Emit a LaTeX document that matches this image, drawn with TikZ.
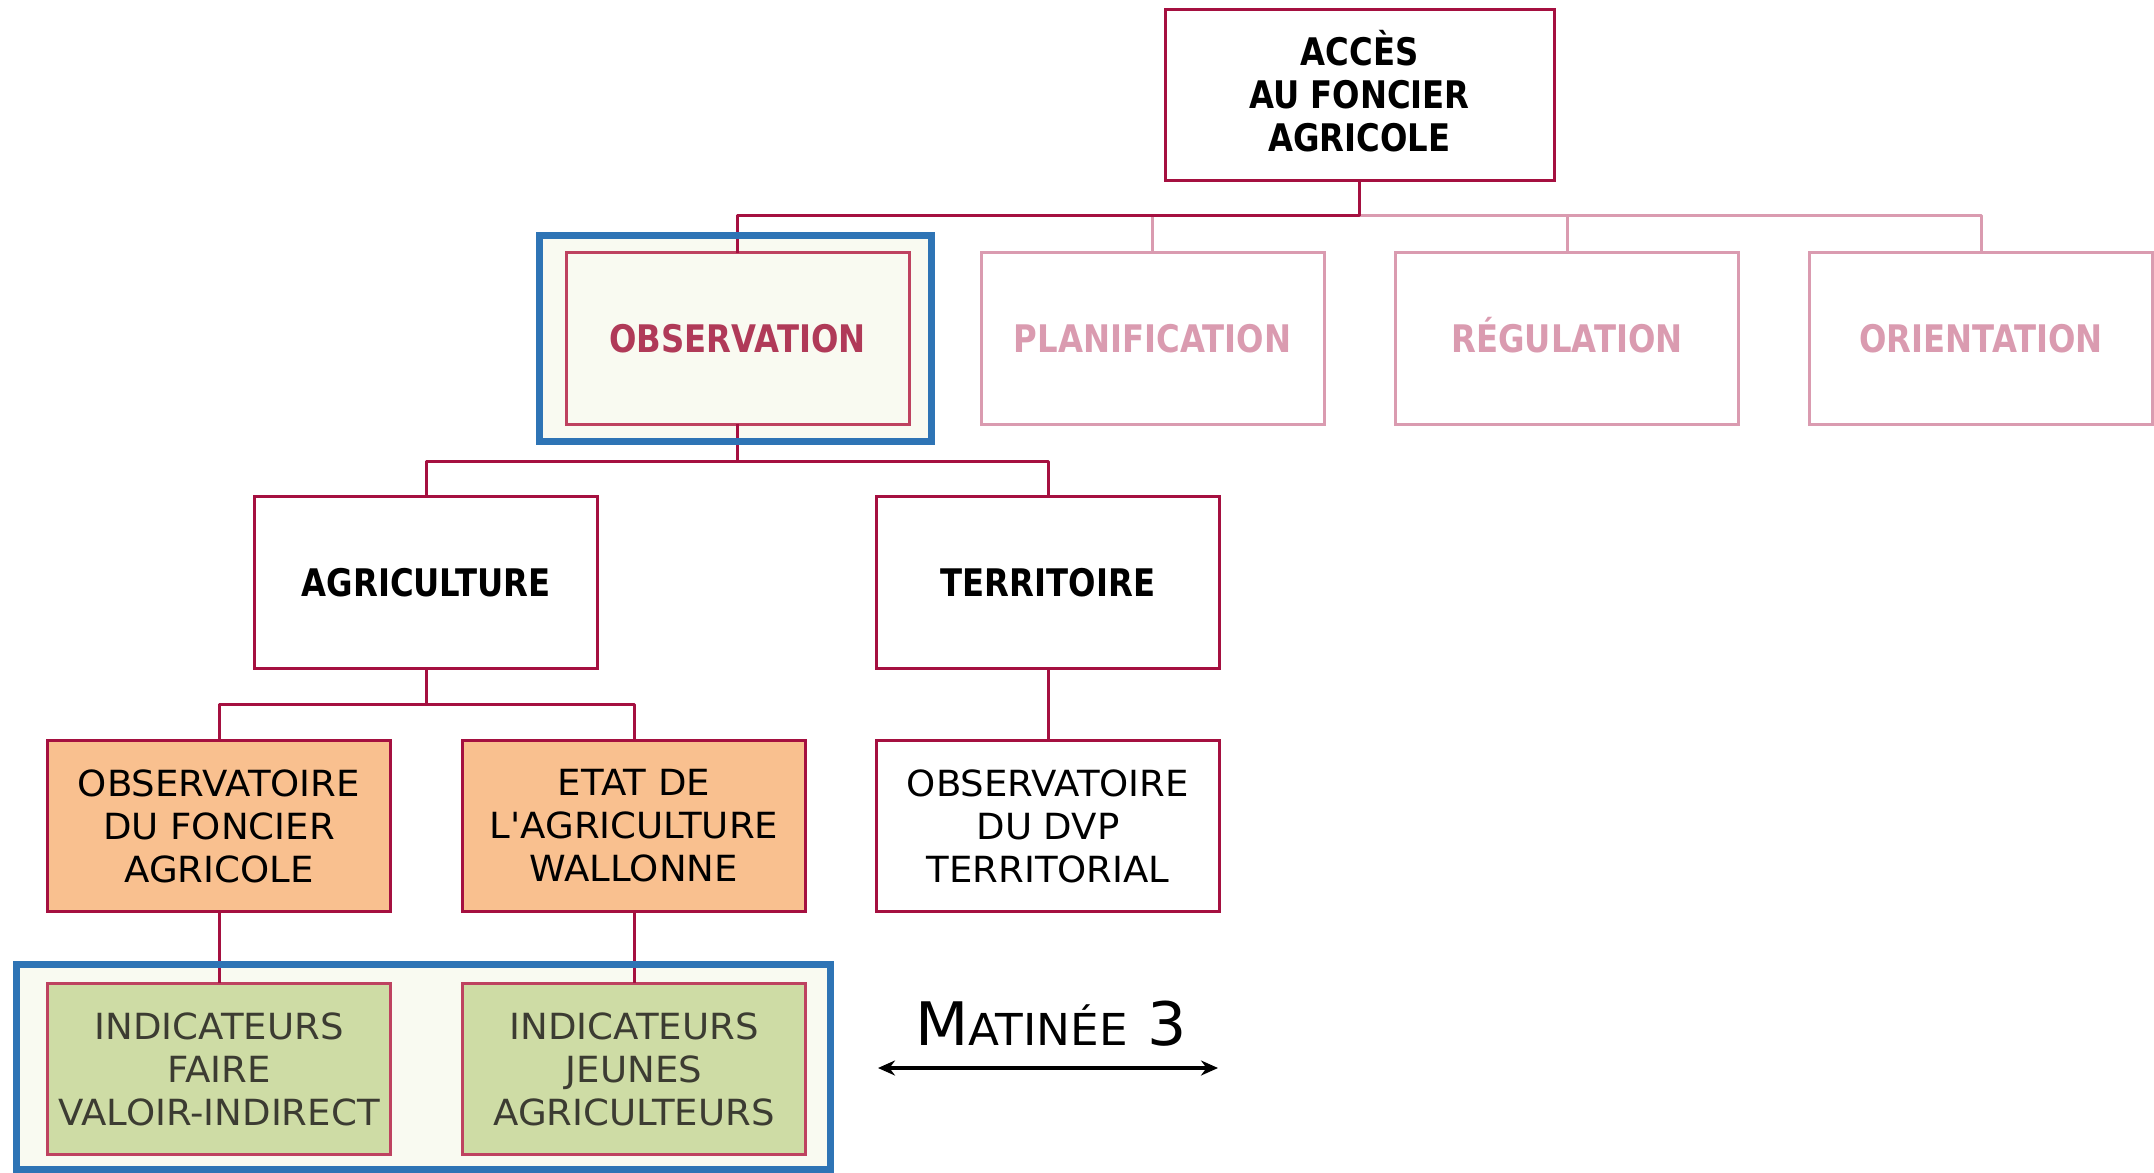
\documentclass[tikz,border=0pt]{standalone}
\usepackage{fontspec}
\setmainfont{DejaVu Sans}
\newfontfamily\headfont{DejaVu Sans}[FakeStretch=0.85]
\newfontfamily\bodyfont{DejaVu Sans}[FakeStretch=1.03]
\usetikzlibrary{arrows.meta}

\definecolor{crimson}{RGB}{165,16,64}
\definecolor{rosebord}{RGB}{190,66,96}
\definecolor{paleros}{RGB}{218,155,176}
\definecolor{obstext}{RGB}{176,58,88}
\definecolor{frameblue}{RGB}{46,116,181}
\definecolor{cream}{RGB}{249,250,241}
\definecolor{orangefill}{RGB}{249,192,143}
\definecolor{greenfill}{RGB}{206,220,165}
\definecolor{greytext}{RGB}{60,60,50}

\begin{document}
\begin{tikzpicture}[x=1pt,y=-1pt,
  box/.style={draw=crimson, line width=3pt, fill=white, outer sep=0pt, inner sep=0pt,
    minimum width=343pt, minimum height=171.5pt, align=center},
  head/.style={font=\headfont\bfseries\fontsize{38}{43}\selectfont},
  body/.style={font=\bodyfont\fontsize{36}{43}\selectfont},
  single/.style={text height=27pt, text depth=0pt},
  palebox/.style={box, draw=paleros, text=paleros, head, single},
  greenbox/.style={box, body, fill=greenfill, draw=rosebord, text=greytext},
  link/.style={draw=crimson, line width=3pt, line join=round},
  palelink/.style={draw=paleros, line width=3pt, line join=round},
  frame/.style={draw=frameblue, line width=7pt},
]
\useasboundingbox (0,0) rectangle (2154,1172);

% highlight frames (background)
\fill[cream] (539.5,235.5) rectangle (931.5,441.5);
\fill[cream] (16.5,964.5) rectangle (830.5,1169);

% boxes
\node[box, head, minimum width=389pt] (top) at (1359.5,95)
  {\rule{0pt}{27pt}\smash{ACCÈS}\\AU FONCIER\\AGRICOLE};

\node[box, head, single, fill=cream, draw=rosebord, text=obstext] (obs) at (737.5,338.5) {OBSERVATION};
\node[palebox] (plan) at (1152.5,338.5) {PLANIFICATION};
\node[palebox] (reg) at (1567,338.5) {RÉGULATION};
\node[palebox] (orient) at (1981,338.5) {ORIENTATION};

\node[box, head, single] (agri) at (426,582.5) {AGRICULTURE};
\node[box, head, single] (terr) at (1048,582.5) {TERRITOIRE};

\node[box, body, fill=orangefill] (obsf) at (219,826) {OBSERVATOIRE\\DU FONCIER\\AGRICOLE};
\node[box, body, fill=orangefill] (etat) at (634,826) {ETAT DE\\L'AGRICULTURE\\WALLONNE};
\node[box, body] (dvp) at (1048,826) {OBSERVATOIRE\\DU DVP\\TERRITORIAL};

\node[greenbox] (ind1) at (219,1069) {INDICATEURS\\FAIRE\\VALOIR-INDIRECT};
\node[greenbox] (ind2) at (634,1069) {INDICATEURS\\JEUNES\\AGRICULTEURS};

% junction points of the buses
\path (top.south) ++(0,35) coordinate (j1);
\path (obs.south) ++(0,37) coordinate (j2);
\path (agri.south) ++(0,36) coordinate (j3);

% connectors
\draw[palelink] (plan.north) -- (plan.north |- j1);
\draw[palelink] (reg.north) -- (reg.north |- j1);
\draw[palelink] (j1) -| (orient.north);
\draw[link] (top.south) -- (j1) -| (obs.north);
\draw[link] (obs.south) -- (j2) -| (terr.north);
\draw[link] (j2) -| (agri.north);
\draw[link] (agri.south) -- (j3) -| (obsf.north);
\draw[link] (j3) -| (etat.north);
\draw[link] (terr.south) -- (dvp.north);
\draw[link] (obsf.south) -- (ind1.north);
\draw[link] (etat.south) -- (ind2.north);

% highlight frame outlines
\draw[frame] (539.5,235.5) rectangle (931.5,441.5);
\draw[frame] (16.5,964.5) rectangle (830.5,1169);

% session label with span arrow
\node[anchor=base, inner sep=0pt, font=\bodyfont] (mat) at (1051,1045)
  {{\fontsize{60}{60}\selectfont M}{\fontsize{44}{44}\selectfont ATINÉE}{\fontsize{60}{60}\selectfont{} 3}};
\coordinate (aL) at (878,1068);
\coordinate (aR) at (1218,1068);
\draw[line width=4pt, {Stealth[length=17pt,width=15pt]}-{Stealth[length=17pt,width=15pt]}] (aL) -- (aR);
\end{tikzpicture}
\end{document}
